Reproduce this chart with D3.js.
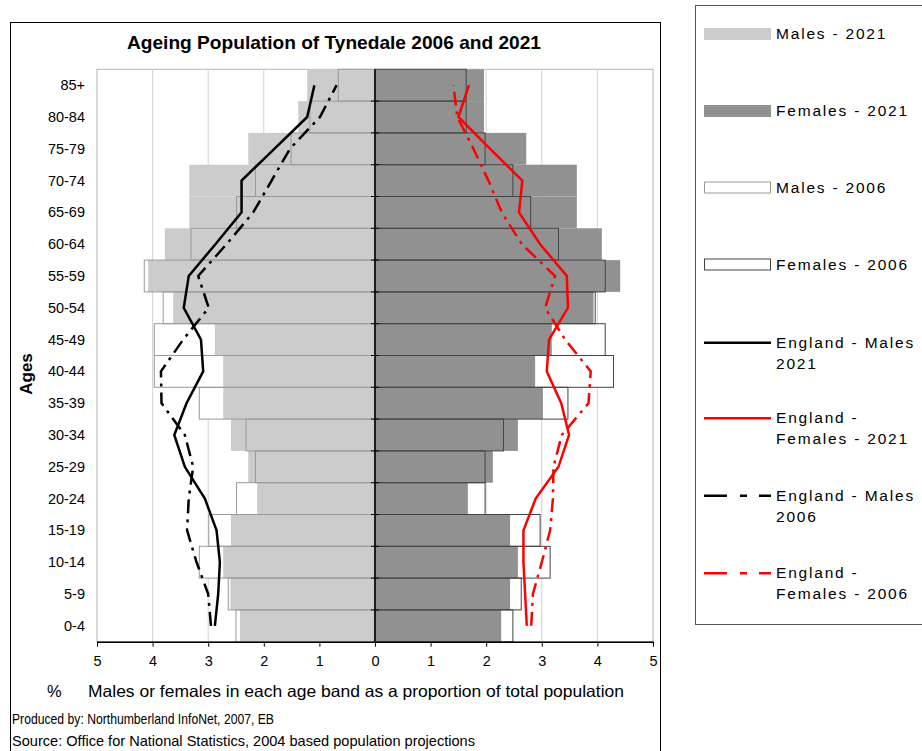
<!DOCTYPE html>
<html>
<head>
<meta charset="utf-8">
<script src="https://cdn.jsdelivr.net/npm/d3@7"></script>
<style>
  body { margin: 0; background: #fff; }
  text { font-family: "Liberation Sans", Arial, sans-serif; fill: #000; }
</style>
</head>
<body>
<svg width="922" height="751"></svg>
<script>
// age bands, bottom to top
const ages = ["0-4", "5-9", "10-14", "15-19", "20-24", "25-29", "30-34", "35-39", "40-44",
              "45-49", "50-54", "55-59", "60-64", "65-69", "70-74", "75-79", "80-84", "85+"];

// Tynedale, % of total population
const males2021   = [2.43, 2.60, 2.73, 2.59, 2.12, 2.28, 2.59, 2.73, 2.73, 2.88, 3.63, 4.08, 3.78, 3.34, 3.34, 2.28, 1.38, 1.22];
const males2006   = [2.50, 2.64, 3.16, 2.99, 2.49, 2.15, 2.32, 3.16, 3.97, 3.97, 3.81, 4.15, 3.31, 2.49, 2.15, 1.51, 1.17, 0.66];
const females2021 = [2.27, 2.43, 2.57, 2.43, 1.67, 2.12, 2.57, 3.02, 2.88, 3.18, 3.93, 4.41, 4.08, 3.63, 3.63, 2.72, 1.96, 1.96];
const females2006 = [2.48, 2.63, 3.15, 2.97, 1.98, 1.98, 2.31, 3.47, 4.29, 4.14, 3.96, 4.14, 3.30, 2.80, 2.48, 1.98, 1.64, 1.64];

// England comparison lines
const engMales2021   = [2.88, 2.82, 2.79, 2.85, 3.06, 3.42, 3.61, 3.39, 3.09, 3.13, 3.44, 3.35, 2.87, 2.40, 2.40, 1.81, 1.22, 1.09];
const engMales2006   = [2.95, 3.00, 3.21, 3.38, 3.35, 3.27, 3.42, 3.84, 3.85, 3.45, 2.99, 3.18, 2.67, 2.19, 1.86, 1.53, 0.99, 0.69];
const engFemales2021 = [2.73, 2.70, 2.67, 2.67, 2.89, 3.30, 3.49, 3.35, 3.09, 3.13, 3.47, 3.45, 2.97, 2.59, 2.65, 2.07, 1.50, 1.69];
const engFemales2006 = [2.81, 2.84, 3.00, 3.15, 3.20, 3.21, 3.36, 3.84, 3.88, 3.42, 3.06, 3.24, 2.64, 2.28, 2.04, 1.77, 1.48, 1.41];

const xTicks = [-5, -4, -3, -2, -1, 0, 1, 2, 3, 4, 5];

const svg = d3.select("svg");
const plot = {left: 97, right: 653, top: 69.3, bottom: 641.7};

const x = d3.scaleLinear().domain([-5, 5]).range([plot.left, plot.right]);
const y = d3.scaleBand().domain(ages.slice().reverse()).range([plot.top, plot.bottom]).padding(0);

const cMale21 = "#cccccc", cFem21 = "#919191", sMale06 = "#9a9a9a", sFem06 = "#444444";
const dash = "14,6,3,6";

// outer chart frame
svg.append("rect").attr("x", 10.5).attr("y", 22.5).attr("width", 650).attr("height", 740)
  .attr("fill", "none").attr("stroke", "#000").attr("stroke-width", 1);

svg.append("text").attr("x", 334).attr("y", 48.5).attr("text-anchor", "middle")
  .style("font-size", "18.5px").style("font-weight", "bold")
  .attr("textLength", 414).attr("lengthAdjust", "spacingAndGlyphs")
  .text("Ageing Population of Tynedale 2006 and 2021");

// plot area + gridlines
svg.append("rect").attr("x", plot.left).attr("y", plot.top)
  .attr("width", plot.right - plot.left).attr("height", plot.bottom - plot.top)
  .attr("fill", "#fff").attr("stroke", "#b4b4b4");

svg.append("g").selectAll("line")
  .data(xTicks.filter(d => d !== 0 && Math.abs(d) !== 5))
  .join("line")
  .attr("x1", d => x(d)).attr("x2", d => x(d))
  .attr("y1", plot.top).attr("y2", plot.bottom)
  .attr("stroke", "#d2d2d2");

// 2006 boxes (white fill) behind, 2021 fills, then 2006 outlines on top
function bars(vals, sign, cls) {
  return svg.append("g").attr("class", cls).selectAll("rect")
    .data(vals.map((v, i) => ({age: ages[i], v: v})))
    .join("rect")
    .attr("x", d => sign < 0 ? x(-d.v) : x(0))
    .attr("width", d => x(d.v) - x(0))
    .attr("y", d => y(d.age))
    .attr("height", y.bandwidth());
}

bars(males2006, -1, "m06fill").attr("fill", "#fff");
bars(females2006, 1, "f06fill").attr("fill", "#fff");
bars(males2021, -1, "m21").attr("fill", cMale21);
bars(females2021, 1, "f21").attr("fill", cFem21);
bars(males2006, -1, "m06").attr("fill", "none").attr("stroke", sMale06).attr("stroke-width", 1);
bars(females2006, 1, "f06").attr("fill", "none").attr("stroke", sFem06).attr("stroke-width", 1);

// England lines
function engLine(vals, sign, color, width, dashed) {
  const line = d3.line()
    .x(d => x(sign * d.v))
    .y(d => y(d.age) + y.bandwidth() / 2);
  svg.append("path")
    .datum(vals.map((v, i) => ({age: ages[i], v: v})))
    .attr("d", line)
    .attr("fill", "none")
    .attr("stroke", color)
    .attr("stroke-width", width)
    .attr("stroke-linejoin", "miter")
    .attr("stroke-dasharray", dashed ? dash : null);
}
engLine(engMales2006, -1, "#000", 2.5, true);
engLine(engFemales2006, 1, "#ff0000", 2.5, true);
engLine(engMales2021, -1, "#000", 2.5, false);
engLine(engFemales2021, 1, "#ff0000", 2.5, false);

// central axis with band ticks
svg.append("line").attr("x1", x(0)).attr("x2", x(0))
  .attr("y1", plot.top).attr("y2", plot.bottom)
  .attr("stroke", "#000").attr("stroke-width", 1.5);
svg.append("g").selectAll("line")
  .data(ages.slice(1))
  .join("line")
  .attr("x1", x(0) - 4).attr("x2", x(0) + 4)
  .attr("y1", d => y(d) + y.bandwidth()).attr("y2", d => y(d) + y.bandwidth())
  .attr("stroke", "#000");

// age labels
svg.append("g").selectAll("text")
  .data(ages)
  .join("text")
  .attr("x", 85)
  .attr("y", d => y(d) + y.bandwidth() / 2 + 5)
  .attr("text-anchor", "end")
  .style("font-size", "14.5px")
  .text(d => d);

svg.append("text")
  .attr("transform", "translate(32,374) rotate(-90)")
  .attr("text-anchor", "middle")
  .style("font-size", "17px").style("font-weight", "bold")
  .text("Ages");

// bottom axis
const xAxis = svg.append("g").attr("transform", `translate(0,${plot.bottom})`)
  .call(d3.axisBottom(x).tickValues(xTicks).tickSize(5).tickSizeOuter(0).tickFormat(d => Math.abs(d)));
xAxis.select(".domain").attr("stroke", "#000").attr("stroke-width", 1.5);
xAxis.selectAll(".tick line").attr("stroke", "#000");
xAxis.selectAll(".tick text")
  .attr("y", 14)
  .style("font-size", "14.5px")
  .style("font-family", "'Liberation Sans', Arial, sans-serif");

svg.append("text").attr("x", 47).attr("y", 697).style("font-size", "16.5px").text("%");
svg.append("text").attr("x", 88).attr("y", 697).style("font-size", "16.5px")
  .attr("textLength", 536).attr("lengthAdjust", "spacingAndGlyphs")
  .text("Males or females in each age band as a proportion of total  population");

svg.append("text").attr("x", 12).attr("y", 724).style("font-size", "14.5px")
  .attr("textLength", 262).attr("lengthAdjust", "spacingAndGlyphs")
  .text("Produced by: Northumberland InfoNet, 2007, EB");
svg.append("text").attr("x", 12).attr("y", 745.5).style("font-size", "14.5px")
  .attr("textLength", 463).attr("lengthAdjust", "spacingAndGlyphs")
  .text("Source: Office for National Statistics, 2004 based population projections");

// legend
const legendItems = [
  {lines: ["Males - 2021"], type: "fill", fill: cMale21, y: 34},
  {lines: ["Females - 2021"], type: "fill", fill: cFem21, y: 111},
  {lines: ["Males - 2006"], type: "box", stroke: sMale06, y: 187.5},
  {lines: ["Females - 2006"], type: "box", stroke: sFem06, y: 264.5},
  {lines: ["England - Males", "2021"], type: "line", stroke: "#000", dashed: false, y: 342.7},
  {lines: ["England -", "Females - 2021"], type: "line", stroke: "#ff0000", dashed: false, y: 418.3},
  {lines: ["England - Males", "2006"], type: "line", stroke: "#000", dashed: true, y: 495.7},
  {lines: ["England -", "Females - 2006"], type: "line", stroke: "#ff0000", dashed: true, y: 573.3}
];

svg.append("rect").attr("x", 695.5).attr("y", 5.5).attr("width", 240).attr("height", 619)
  .attr("fill", "#fff").attr("stroke", "#555");

const lg = svg.append("g").selectAll("g").data(legendItems).join("g");

lg.filter(d => d.type === "fill").append("rect")
  .attr("x", 704).attr("y", d => d.y - 6).attr("width", 67).attr("height", 12)
  .attr("fill", d => d.fill);
lg.filter(d => d.type === "box").append("rect")
  .attr("x", 704.5).attr("y", d => d.y - 5.5).attr("width", 66).attr("height", 11)
  .attr("fill", "#fff").attr("stroke", d => d.stroke);
lg.filter(d => d.type === "line").append("line")
  .attr("x1", 704).attr("x2", 771).attr("y1", d => d.y).attr("y2", d => d.y)
  .attr("stroke", d => d.stroke).attr("stroke-width", 2.5)
  .attr("stroke-dasharray", d => d.dashed ? "23,13,7,12,13" : null);

lg.append("text")
  .attr("x", 776)
  .attr("y", d => d.y + 5)
  .style("font-size", "15.5px")
  .style("letter-spacing", "1.8px")
  .selectAll("tspan")
  .data(d => d.lines)
  .join("tspan")
  .attr("x", 776)
  .attr("dy", (d, i) => i === 0 ? 0 : 20.8)
  .text(d => d);
</script>
</body>
</html>
